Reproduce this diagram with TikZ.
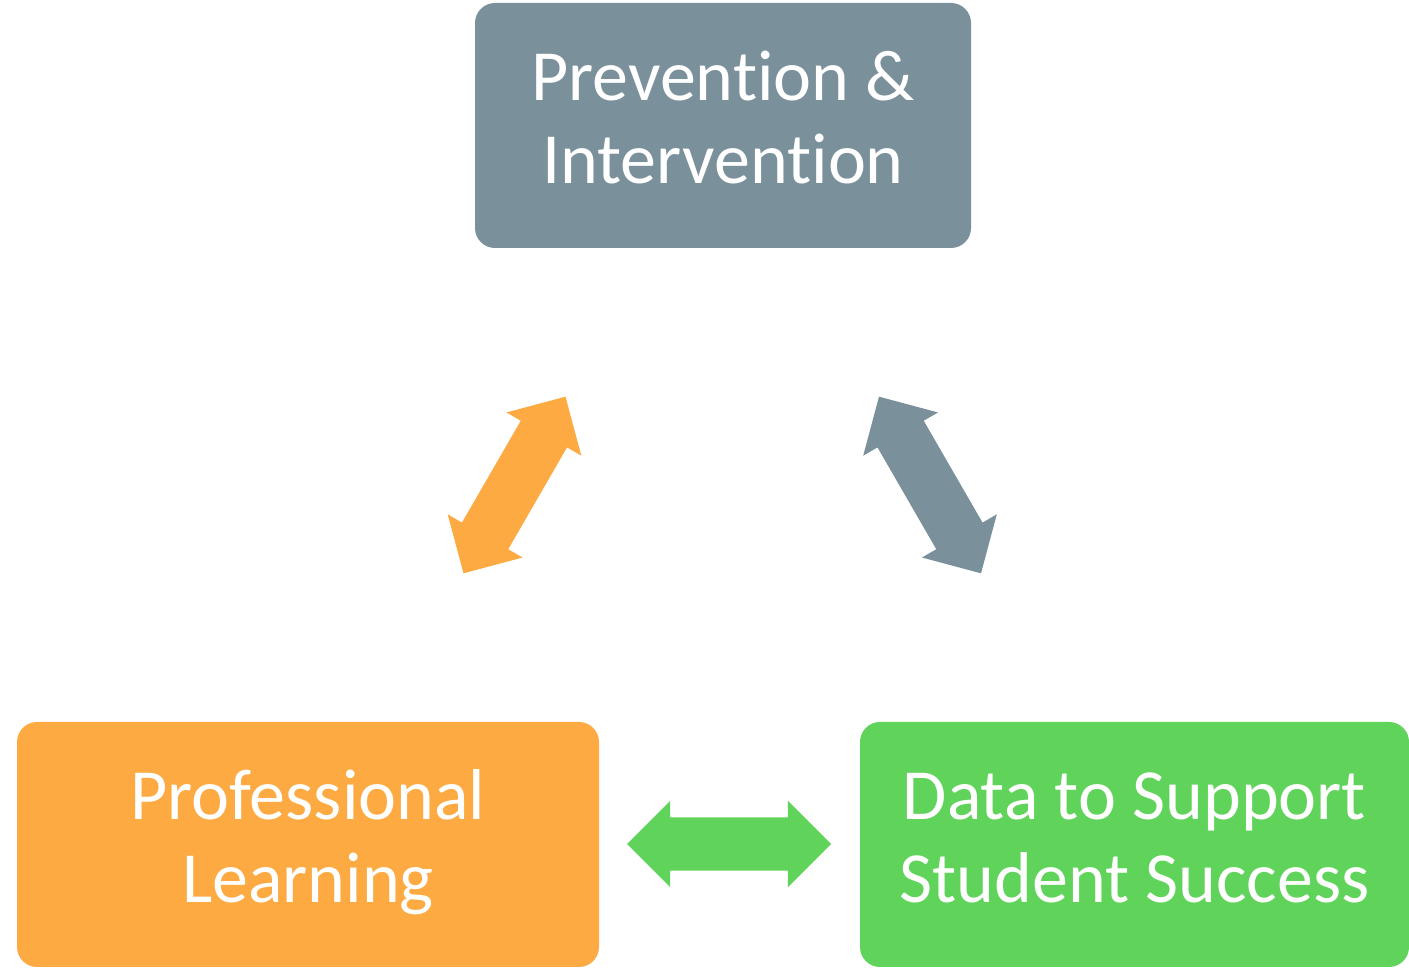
\documentclass[tikz,border=0pt]{standalone}
\usepackage{fontspec}
\setmainfont{Carlito}[Ligatures=NoCommon]
\usetikzlibrary{shapes.arrows}
\definecolor{pgray}{HTML}{7A909B}
\definecolor{porange}{HTML}{FCAA41}
\definecolor{pgreen}{HTML}{5FD35A}
\begin{document}
\begin{tikzpicture}[x=1pt,y=1pt,
  box/.style={rounded corners=20pt, minimum height=245pt, inner sep=0pt,
    text=white, align=center, font=\fontsize{72}{83}\selectfont},
  darrow/.style={double arrow, minimum height=204pt, minimum width=86pt,
    double arrow head extend=16.5pt, inner xsep=0pt, inner ysep=26.5pt, draw=none}]
\useasboundingbox (0,0) rectangle (1409,972);
\node[box, fill=pgray, minimum width=496pt] (prev) at (723,846.5) {\strut Prevention \&\\\strut Intervention};
\node[box, fill=porange, minimum width=582pt] (prof) at (308,127.5) {\strut Professional\\\strut Learning};
\node[box, fill=pgreen, minimum width=549pt] (data) at (1134.5,127.5) {\strut Data to Support\\\strut Student Success};
\node[darrow, fill=porange, rotate=60] (a1) at (514.5,487) {};
\node[darrow, fill=pgray, rotate=-60] (a2) at (930,487) {};
\node[darrow, fill=pgreen] (a3) at (729,128) {};
\end{tikzpicture}
\end{document}
